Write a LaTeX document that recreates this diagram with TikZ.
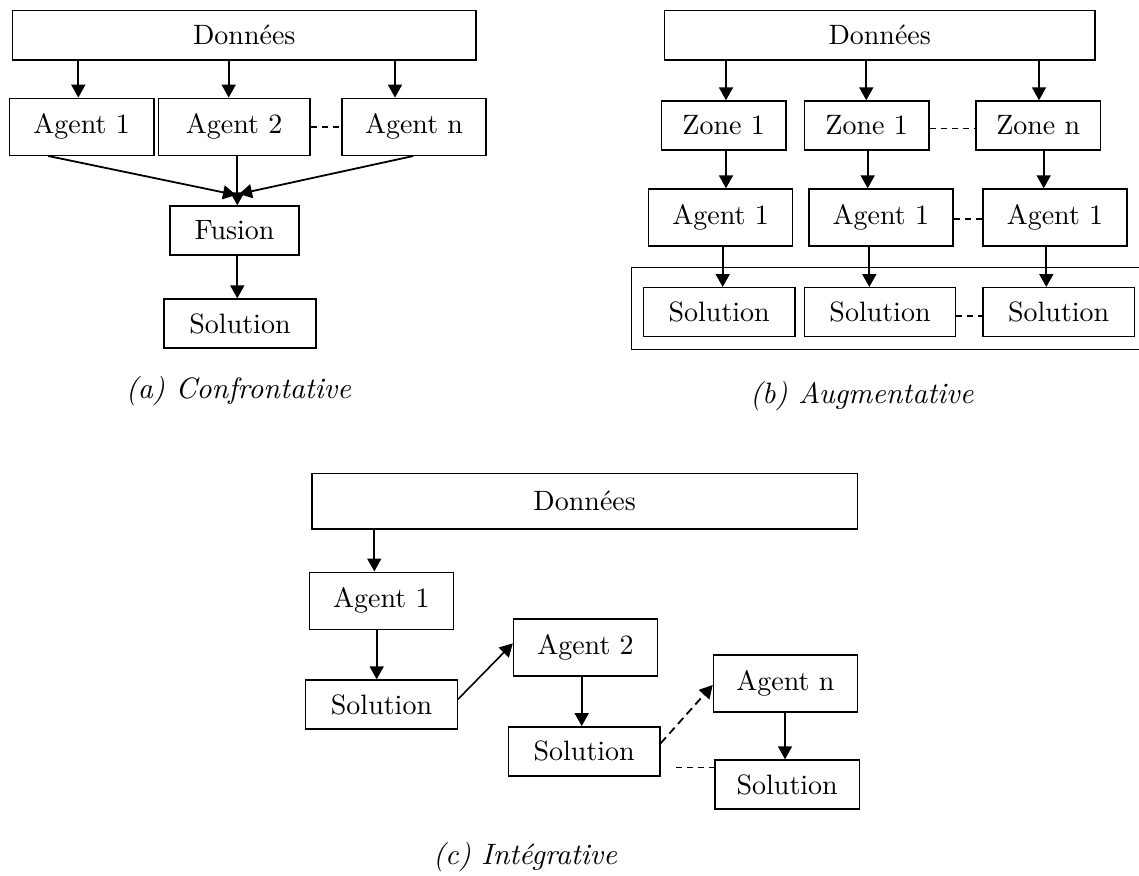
\documentclass[tikz,border=0pt]{standalone}
\usepackage{fontspec}
\usetikzlibrary{arrows.meta}
% text-size cut of Latin Modern, scaled up, for the box labels and captions
\newfontfamily\boxfont{lmroman10-regular.otf}
\newfontfamily\capfont{lmroman10-italic.otf}
\begin{document}
\begin{tikzpicture}[x=1pt,y=-1pt,
  box/.style={draw, line width=1.4pt, inner sep=0pt, font=\boxfont\fontsize{28}{33}\selectfont},
  agent/.style={box, minimum width=144pt, minimum height=57pt},
  sol/.style={box, minimum width=151.5pt, minimum height=49pt},
  zone/.style={box, minimum width=124.7pt, minimum height=49pt},
  arr/.style={line width=1.8pt, -{Triangle[width=14pt,length=13pt]}},
  link/.style={line width=1.4pt, dash pattern=on 6pt off 5pt},
  subcap/.style={inner sep=0pt, font=\capfont\fontsize{29.5}{34}\selectfont}]
\useasboundingbox (0,0) rectangle (1139,875);

% ---------- (a) confrontative ----------
\node[box, minimum width=463.3pt, minimum height=49.3pt] (dA) at (244.3,35.3) {Données};
\node[agent, minimum width=144.7pt] (a1) at (81.7,126.8) {Agent 1};
\node[agent, minimum width=151.7pt] (a2) at (234.2,126.8) {Agent 2};
\node[agent] (an) at (414,126.8) {Agent n};
\node[box, minimum width=129pt, minimum height=49pt] (fu) at (234.5,230.5) {Fusion};
\node[sol, minimum width=152pt] (sa) at (240,323.5) {Solution};

\draw[arr] (dA.south -| 78.3,0) -- (a1.north -| 78.3,0);
\draw[arr] (dA.south -| 228.7,0) -- (a2.north -| 228.7,0);
\draw[arr] (dA.south -| 395,0) -- (an.north -| 395,0);
\draw[link] (a2.east) -- (an.west);
\coordinate (mL) at (236,195);
\coordinate (mR) at (239,194);
\draw[arr] (a1.south -| 48.3,0) -- (mL);
\draw[arr] (an.south -| 413.3,0) -- (mR);
\draw[arr] (a2.south -| 237.3,0) -- (fu.north -| 237.3,0);
\draw[arr] (fu.south -| 237.3,0) -- (sa.north -| 237.3,0);
\node[subcap] (ca) at (238.3,391) {(a) Confrontative};

% ---------- (b) augmentative ----------
\node[box, minimum width=430.7pt, minimum height=49.3pt] (dB) at (879.7,35.3) {Données};
\node[zone] (z1) at (723.7,125.5) {Zone 1};
\node[zone] (z2) at (866.7,125.5) {Zone 1};
\node[zone] (zn) at (1038.3,125.5) {Zone n};
\node[agent] (b1) at (720.7,217.5) {Agent 1};
\node[agent] (b2) at (880.8,217.5) {Agent 1};
\node[agent] (b3) at (1055,217.5) {Agent 1};
\draw[line width=1.4pt] (1141,267.7) -- (631.7,267.7) -- (631.7,349.3) -- (1141,349.3);
\node[sol] (s1) at (719.2,312.2) {Solution};
\node[sol] (s2) at (880,312.2) {Solution};
\node[sol] (s3) at (1058.7,312.2) {Solution};

\draw[arr] (dB.south -| 726,0) -- (z1.north -| 726,0);
\draw[arr] (dB.south -| 866.3,0) -- (z2.north -| 866.3,0);
\draw[arr] (dB.south -| 1039,0) -- (zn.north -| 1039,0);
\draw[link] (z2.east |- 0,128.3) -- (zn.west |- 0,128.3);
\draw[arr] (z1.south -| 726,0) -- (b1.north -| 726,0);
\draw[arr] (z2.south -| 867.7,0) -- (b2.north -| 867.7,0);
\draw[arr] (zn.south -| 1043.7,0) -- (b3.north -| 1043.7,0);
\draw[link] (b2.east |- 0,219) -- (b3.west |- 0,219);
\draw[arr] (b1.south -| 722.7,0) -- (s1.north -| 722.7,0);
\draw[arr] (b2.south -| 869.3,0) -- (s2.north -| 869.3,0);
\draw[arr] (b3.south -| 1046.3,0) -- (s3.north -| 1046.3,0);
\draw[link] (s2.east |- 0,316) -- (s3.west |- 0,316);
\node[subcap] (cb) at (861.7,396) {(b) Augmentative};

% ---------- (c) integrative ----------
\node[box, minimum width=545.4pt, minimum height=55.7pt] (dC) at (584.7,501.2) {Données};
\node[agent] (c1) at (381.3,600.7) {Agent 1};
\node[sol] (cs1) at (381.5,704.5) {Solution};
\node[agent] (c2) at (585.5,647.3) {Agent 2};
\node[sol] (cs2) at (584.2,751.3) {Solution};
\node[agent] (cn) at (785.4,683.3) {Agent n};
\node[sol, minimum width=144.3pt] (cs3) at (787.2,784.5) {Solution};

\draw[arr] (dC.south -| 374.3,0) -- (c1.north -| 374.3,0);
\draw[arr] (c1.south -| 376.7,0) -- (cs1.north -| 376.7,0);
\draw[arr, line width=1.6pt] (cs1.east |- 0,699.3) -- (c2.west |- 0,643.3);
\draw[arr] (c2.south -| 581.7,0) -- (cs2.north -| 581.7,0);
\draw[arr, dash pattern=on 8pt off 5pt] (cs2.east |- 0,743.3) -- (cn.west |- 0,685);
\draw[arr] (cn.south -| 785,0) -- (cs3.north -| 785,0);
\coordinate (dl) at (676,767.7);
\draw[link] (dl) -- (cs3.west |- dl);
\node[subcap] (cc) at (525,857) {(c) Intégrative};
\end{tikzpicture}
\end{document}
